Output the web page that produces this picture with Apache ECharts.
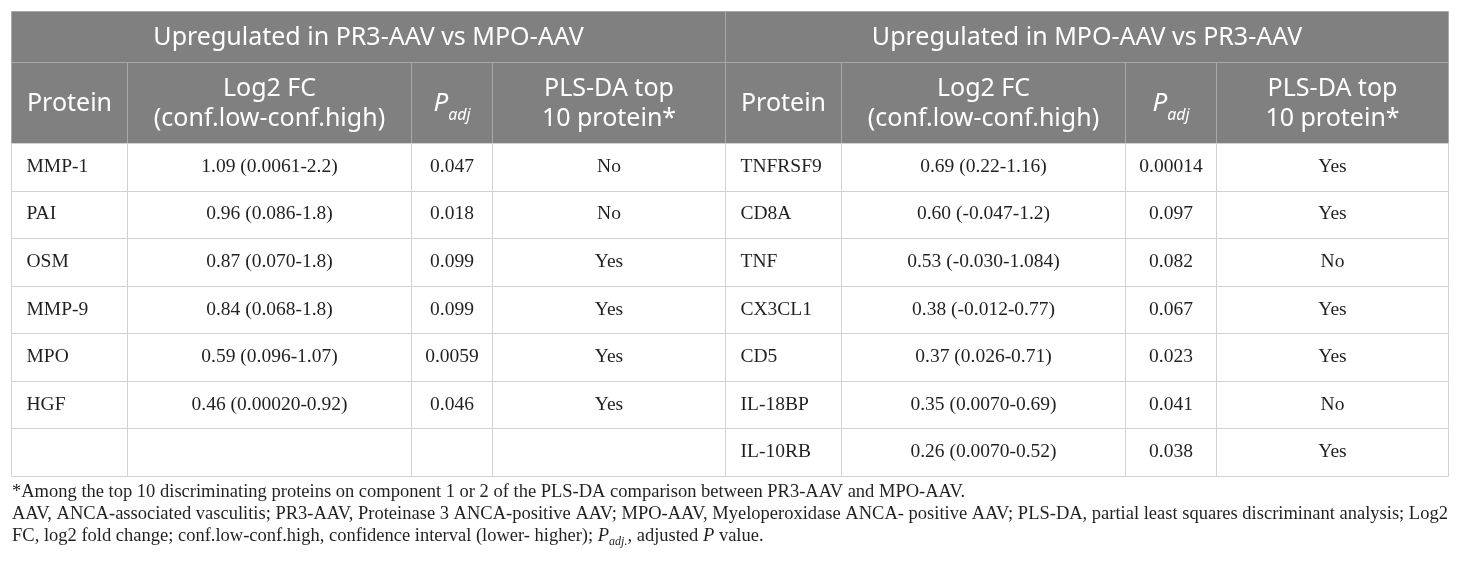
<!DOCTYPE html>
<html>
<head>
<meta charset="utf-8">
<script src="https://cdn.jsdelivr.net/npm/echarts@6/dist/echarts.min.js"></script>
<style>
html,body{margin:0;padding:0;background:#fff;}
#chart{width:1460px;height:567px;}
</style>
</head>
<body>
<div id="chart"></div>
<script>
// ---------------- DATA ----------------
const groupTitles = ['Upregulated in PR3-AAV vs MPO-AAV', 'Upregulated in MPO-AAV vs PR3-AAV'];
const columnHeaders = ['Protein', 'Log2 FC\n(conf.low-conf.high)', 'P_adj', 'PLS-DA top\n10 protein*'];

const pr3Proteins = ['MMP-1', 'PAI', 'OSM', 'MMP-9', 'MPO', 'HGF'];
const pr3Log2FC   = ['1.09', '0.96', '0.87', '0.84', '0.59', '0.46'];
const pr3ConfLow  = ['0.0061', '0.086', '0.070', '0.068', '0.096', '0.00020'];
const pr3ConfHigh = ['2.2', '1.8', '1.8', '1.8', '1.07', '0.92'];
const pr3Padj     = ['0.047', '0.018', '0.099', '0.099', '0.0059', '0.046'];
const pr3PLSDA    = ['No', 'No', 'Yes', 'Yes', 'Yes', 'Yes'];

const mpoProteins = ['TNFRSF9', 'CD8A', 'TNF', 'CX3CL1', 'CD5', 'IL-18BP', 'IL-10RB'];
const mpoLog2FC   = ['0.69', '0.60', '0.53', '0.38', '0.37', '0.35', '0.26'];
const mpoConfLow  = ['0.22', '-0.047', '-0.030', '-0.012', '0.026', '0.0070', '0.0070'];
const mpoConfHigh = ['1.16', '1.2', '1.084', '0.77', '0.71', '0.69', '0.52'];
const mpoPadj     = ['0.00014', '0.097', '0.082', '0.067', '0.023', '0.041', '0.038'];
const mpoPLSDA    = ['Yes', 'Yes', 'No', 'Yes', 'Yes', 'No', 'Yes'];

const footnoteLines = [
  '*Among the top 10 discriminating proteins on component 1 or 2 of the PLS-DA comparison between PR3-AAV and MPO-AAV.',
  'AAV, ANCA-associated vasculitis; PR3-AAV, Proteinase 3 ANCA-positive AAV; MPO-AAV, Myeloperoxidase ANCA- positive AAV; PLS-DA, partial least squares discriminant analysis; Log2',
  'FC, log2 fold change; conf.low-conf.high, confidence interval (lower- higher); {i|P}{sub|adj.}, adjusted {i|P} value.'
];

// ---------------- LAYOUT ----------------
const L = {
  left: 11, top: 11, width: 1437,
  headerRows: [0, 51, 132],
  bodyTop: 143, bodyHeight: 333,
  colEdges: [0, 116, 400, 481, 714, 830, 1114, 1205, 1437],
  padLeft: 15,
  headerFont: 'Noto Sans', headerSize: 25,
  bodyFont: '"Liberation Serif", "Times New Roman", serif', bodySize: 19.5,
  footSize: 18.5, footY: [492, 514, 536]
};
const C = {
  headerFill: '#808080', headerLine: '#a8a8a8', headerText: '#ffffff',
  bodyLine: '#d2d2d2', bodyText: '#231f20'
};

// ---------------- BUILD CELLS ----------------
const nRows = Math.max(pr3Proteins.length, mpoProteins.length);
const rowIds = Array.from({length: nRows}, (_, i) => String(i));
const bodyCells = [];
function sideCells(offset, prot, fc, lo, hi, padj, pls) {
  for (let r = 0; r < nRows; r++) {
    const has = r < prot.length;
    bodyCells.push({col: offset + 0, row: r, text: has ? prot[r] : '', align: 'left'});
    bodyCells.push({col: offset + 1, row: r, text: has ? fc[r] + ' (' + lo[r] + '-' + hi[r] + ')' : '', align: 'center'});
    bodyCells.push({col: offset + 2, row: r, text: has ? padj[r] : '', align: 'center'});
    bodyCells.push({col: offset + 3, row: r, text: has ? pls[r] : '', align: 'center'});
  }
}
sideCells(0, pr3Proteins, pr3Log2FC, pr3ConfLow, pr3ConfHigh, pr3Padj, pr3PLSDA);
sideCells(4, mpoProteins, mpoLog2FC, mpoConfLow, mpoConfHigh, mpoPadj, mpoPLSDA);

const headerCells = [];
groupTitles.forEach((t, s) => headerCells.push({c0: s * 4, c1: s * 4 + 4, r: 0, text: t}));
[0, 1].forEach(s => columnHeaders.forEach((t, k) => headerCells.push({c0: s * 4 + k, c1: s * 4 + k + 1, r: 1, text: t})));

function crisp(v) { return Math.round(v) + 0.5; }

const richHeader = {
  n: {fontFamily: L.headerFont, fontSize: L.headerSize, color: C.headerText, lineHeight: 30},
  i: {fontFamily: L.headerFont, fontSize: L.headerSize + 1, fontStyle: 'italic', color: C.headerText, lineHeight: 38, verticalAlign: 'middle'},
  sub: {fontFamily: L.headerFont, fontSize: 16, fontStyle: 'italic', color: C.headerText, lineHeight: 38, verticalAlign: 'bottom'}
};
function headerText(t) {
  if (t === 'P_adj') return '{i|P}{sub|adj}';
  return t.split('\n').map(s => '{n|' + s + '}').join('\n');
}

const option = {
  animation: false,
  backgroundColor: '#ffffff',
  grid: [
    {left: L.left, top: L.top, width: L.width, height: L.headerRows[2] - L.headerRows[0]},
    {left: L.left, top: L.bodyTop, width: L.width, height: L.bodyHeight}
  ],
  xAxis: [
    {gridIndex: 0, type: 'value', min: 0, max: L.width, show: false},
    {gridIndex: 1, type: 'value', min: 0, max: L.width, show: false}
  ],
  yAxis: [
    {gridIndex: 0, type: 'value', min: 0, max: L.headerRows[2], inverse: true, show: false},
    {gridIndex: 1, type: 'category', data: rowIds, inverse: true, show: false}
  ],
  series: [
    {
      type: 'custom', xAxisIndex: 0, yAxisIndex: 0, silent: true,
      data: headerCells.map((h, i) => [i]),
      renderItem: function (params, api) {
        const h = headerCells[params.dataIndex];
        const p0 = api.coord([L.colEdges[h.c0], L.headerRows[h.r]]);
        const p1 = api.coord([L.colEdges[h.c1], L.headerRows[h.r + 1]]);
        const x0 = crisp(p0[0]), y0 = crisp(p0[1]), x1 = crisp(p1[0]), y1 = crisp(p1[1]);
        return {
          type: 'group',
          children: [
            {type: 'rect', shape: {x: x0, y: y0, width: x1 - x0, height: y1 - y0},
             style: {fill: C.headerFill, stroke: C.headerLine, lineWidth: 1}},
            {type: 'text', x: (x0 + x1) / 2, y: (y0 + y1) / 2 + 1,
             style: {text: headerText(h.text), rich: richHeader, align: 'center', verticalAlign: 'middle',
                     fill: C.headerText, font: L.headerSize + 'px ' + L.headerFont}}
          ]
        };
      }
    },
    {
      type: 'custom', xAxisIndex: 1, yAxisIndex: 1, silent: true,
      data: bodyCells.map(c => [L.colEdges[c.col], c.row]),
      renderItem: function (params, api) {
        const c = bodyCells[params.dataIndex];
        const a = api.coord([L.colEdges[c.col], c.row]);
        const b = api.coord([L.colEdges[c.col + 1], c.row]);
        const h = api.size([0, 1])[1];
        const x0 = crisp(a[0]), x1 = crisp(b[0]);
        const y0 = crisp(a[1] - h / 2), y1 = crisp(a[1] + h / 2);
        return {
          type: 'group',
          children: [
            {type: 'rect', shape: {x: x0, y: y0, width: x1 - x0, height: y1 - y0},
             style: {fill: '#ffffff', stroke: C.bodyLine, lineWidth: 1}},
            {type: 'text', x: c.align === 'left' ? x0 + L.padLeft : (x0 + x1) / 2, y: a[1],
             style: {text: c.text, align: c.align, verticalAlign: 'middle', fill: C.bodyText,
                     font: L.bodySize + 'px ' + L.bodyFont}}
          ]
        };
      }
    }
  ],
  graphic: footnoteLines.map((t, i) => ({
    type: 'text', x: L.left + 1, y: L.footY[i], silent: true,
    style: {
      text: t, verticalAlign: 'middle', fill: C.bodyText,
      font: L.footSize + 'px ' + L.bodyFont,
      rich: {
        i: {fontFamily: L.bodyFont, fontSize: L.footSize, fontStyle: 'italic', color: C.bodyText, lineHeight: 24, verticalAlign: 'middle'},
        sub: {fontFamily: L.bodyFont, fontSize: 12, fontStyle: 'italic', color: C.bodyText, lineHeight: 24, verticalAlign: 'bottom'}
      }
    }
  }))
};

const chart = echarts.init(document.getElementById('chart'));
chart.setOption(option);
</script>
</body>
</html>
